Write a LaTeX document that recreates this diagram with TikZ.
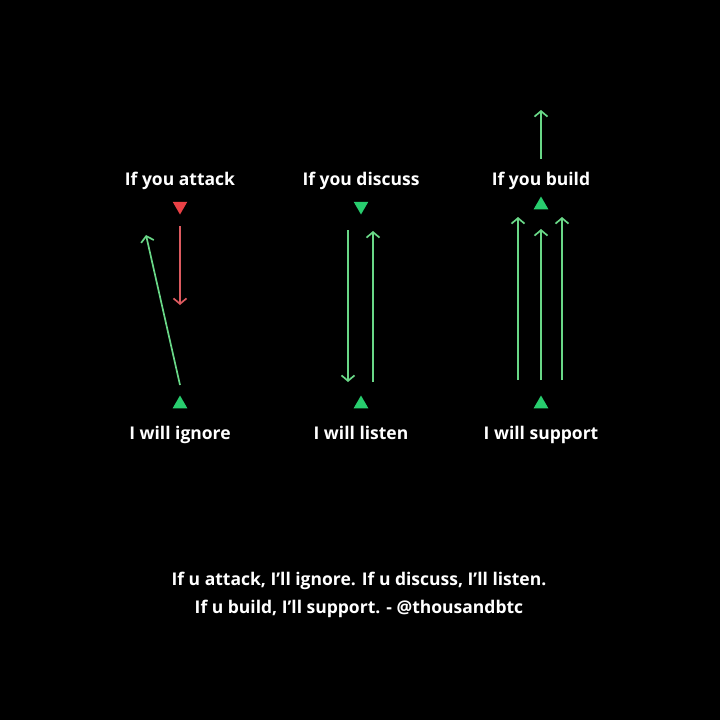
\documentclass[tikz,border=0pt]{standalone}
\usepackage{fontspec}
\setmainfont{Open Sans}
\usetikzlibrary{arrows.meta,shapes.geometric}
\definecolor{tipgreen}{RGB}{40,205,110}
\definecolor{linegreen}{RGB}{105,215,135}
\definecolor{tipred}{RGB}{235,65,70}
\definecolor{linered}{RGB}{220,90,95}

\begin{document}
\begin{tikzpicture}[x=1pt,y=-1pt,>={Straight Barb[length=5.5pt,width=13pt]},
    every node/.style={font=\bfseries\fontsize{17.5}{20}\selectfont, text=white},
    label/.style={anchor=base},
    tri/.style={regular polygon, regular polygon sides=3, minimum size=17pt, inner sep=0pt, fill=#1},
    arr/.style={->, line width=1.7pt, color=#1}]
    \fill[black] (0,0) rectangle (720,720);

    % headings
    \node[label] (attack) at (180,185) {If you attack};
    \node[label] (discuss) at (361,185) {If you discuss};
    \node[label] (build) at (541,185) {If you build};

    \node[label] (ignore) at (180,439) {I will ignore};
    \node[label] (listen) at (361,439) {I will listen};
    \node[label] (support) at (541,439) {I will support};

    % triangles
    \node[tri=tipred, rotate=180] (ta) at (180,206) {};
    \node[tri=tipgreen, rotate=180] (td) at (361,206) {};
    \node[tri=tipgreen] (tb) at (541,205) {};
    \node[tri=tipgreen] (ba) at (180,404) {};
    \node[tri=tipgreen] (bd) at (361,404) {};
    \node[tri=tipgreen] (bb) at (541,404) {};

    % arrow ends
    \coordinate (a1) at (180,226);
    \coordinate (a2) at (180,305);
    \coordinate (a3) at (180,385);
    \coordinate (a4) at (146,235);
    \coordinate (d1) at (348,230);
    \coordinate (d2) at (348,382);
    \coordinate (d3) at (373,382);
    \coordinate (d4) at (373,231);
    \coordinate (b1) at (518,380);
    \coordinate (b2) at (518,217);
    \coordinate (b3) at (541,380);
    \coordinate (b4) at (541,229);
    \coordinate (b5) at (562,380);
    \coordinate (b6) at (562,217);
    \coordinate (b7) at (541,159);
    \coordinate (b8) at (541,110);

    \draw[arr=linered] (a1) -- (a2);
    \draw[arr=linegreen] (a3) -- (a4);
    \draw[arr=linegreen] (d1) -- (d2);
    \draw[arr=linegreen] (d3) -- (d4);
    \draw[arr=linegreen] (b1) -- (b2);
    \draw[arr=linegreen] (b3) -- (b4);
    \draw[arr=linegreen] (b5) -- (b6);
    \draw[arr=linegreen] (b7) -- (b8);

    % caption
    \node[label] (quote1) at (359,585) {If u attack, I’ll ignore. If u discuss, I’ll listen.};
    \node[label] (quote2) at (359,613) {If u build, I’ll support. - @thousandbtc};
\end{tikzpicture}
\end{document}
